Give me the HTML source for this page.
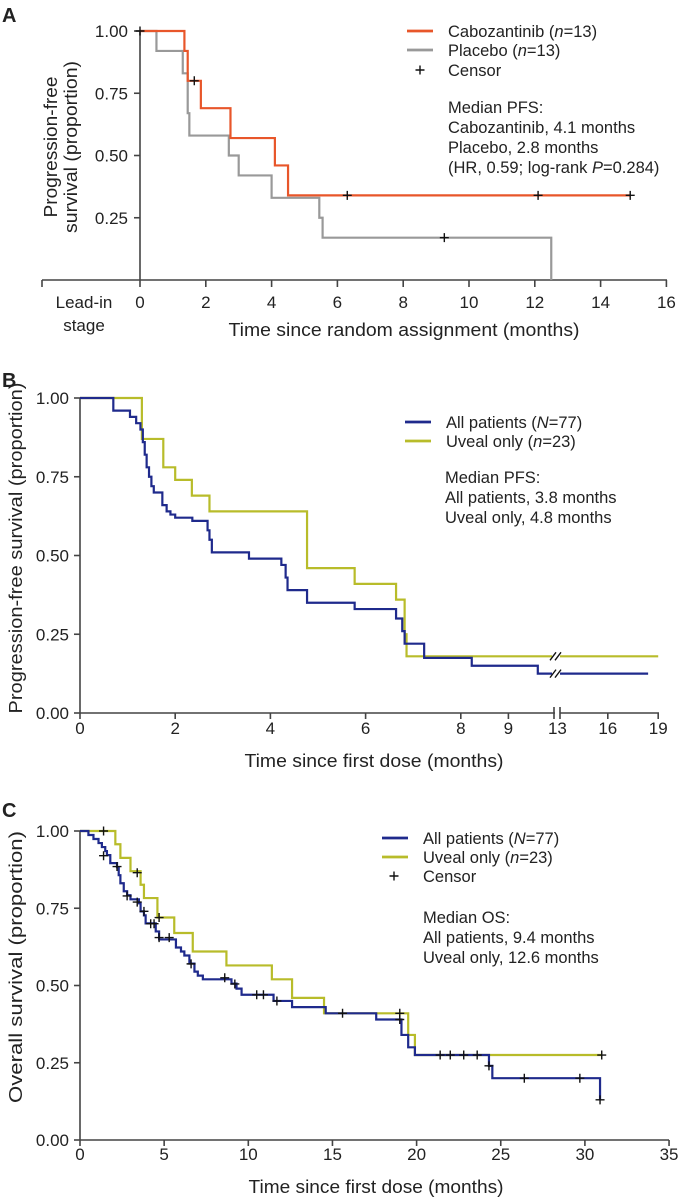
<!DOCTYPE html>
<html><head><meta charset="utf-8"><style>
html,body{margin:0;padding:0;background:#fff;}
svg{display:block;font-family:"Liberation Sans",Arial,sans-serif;}
text{fill:#222;}
</style></head><body>
<svg id="fig" width="678" height="1199" viewBox="0 0 678 1199" xmlns="http://www.w3.org/2000/svg">
<g id="A"></g>
<g id="B"></g>
<g id="C"></g>
</svg>
<script>
// ---------- Panel A data ----------
const aXTicks = [0,2,4,6,8,10,12,14,16];
const aYTicks = [1.00,0.75,0.50,0.25];
const aCaboT = [0,1.35,1.45,1.85,2.75,4.1,4.5];
const aCaboS = [1.0,0.92,0.80,0.69,0.57,0.46,0.34];
const aCaboEnd = 14.9;
const aPlacT = [0,0.5,1.3,1.45,1.5,2.7,3.0,4.0,5.45,5.55,12.5];
const aPlacS = [1.0,0.92,0.83,0.67,0.58,0.50,0.42,0.33,0.25,0.17,0.0];
const aPlacEnd = 12.5;
const aCensT = [0,1.65,6.3,12.1,14.9,9.25];
const aCensS = [1.0,0.80,0.34,0.34,0.34,0.17];

// ---------- Panel B data ----------
const bXTicks = [0,2,4,6,8,9,13,16,19];
const bYTicks = [1.00,0.75,0.50,0.25,0.00];
const bAllT = [0,0.7,1.05,1.18,1.27,1.32,1.36,1.40,1.45,1.50,1.55,1.73,1.82,1.9,2.0,2.36,2.68,2.72,2.77,3.55,4.23,4.32,4.36,4.77,5.77,6.64,6.77,6.82,6.9,7.23,8.23,11.4];
const bAllS = [1.0,0.96,0.94,0.92,0.90,0.86,0.82,0.78,0.75,0.72,0.70,0.66,0.64,0.63,0.62,0.61,0.58,0.55,0.51,0.49,0.47,0.43,0.39,0.35,0.33,0.30,0.26,0.22,0.22,0.175,0.15,0.125];
const bAllEnd = 18.4;
const bUvT = [0,1.3,1.75,2.0,2.35,2.72,4.77,5.77,6.64,6.82,6.86];
const bUvS = [1.0,0.87,0.78,0.74,0.69,0.64,0.46,0.41,0.36,0.25,0.18];
const bUvEnd = 19;

// ---------- Panel C data ----------
const cXTicks = [0,5,10,15,20,25,30,35];
const cYTicks = [1.00,0.75,0.50,0.25,0.00];
const cAllT = [0,0.5,0.8,1.1,1.3,1.5,1.6,1.8,2.2,2.3,2.4,2.6,2.8,3.0,3.5,3.6,3.8,3.9,4.5,4.7,5.7,6.0,6.2,6.5,6.8,7.0,7.3,9.0,9.3,9.6,11.5,12.6,14.6,17.6,19.1,19.5,19.9,24.3,24.5,30.9];
const cAllS = [1.0,0.987,0.974,0.961,0.948,0.935,0.922,0.896,0.883,0.857,0.831,0.805,0.792,0.779,0.766,0.740,0.727,0.701,0.675,0.649,0.623,0.61,0.597,0.571,0.545,0.532,0.52,0.506,0.49,0.47,0.45,0.43,0.41,0.39,0.34,0.30,0.275,0.24,0.20,0.13];
const cAllEnd = 30.9;
const cUvT = [0,2.1,2.4,3.0,3.6,3.8,4.6,5.6,6.7,8.7,11.4,12.6,14.5,19.5,19.9];
const cUvS = [1.0,0.957,0.913,0.87,0.826,0.783,0.72,0.67,0.61,0.565,0.52,0.46,0.41,0.34,0.275];
const cUvEnd = 31;
const cCensAllT = [1.4,2.2,2.8,3.4,3.8,4.2,4.4,4.7,5.3,6.6,8.6,9.2,10.5,10.9,11.7,15.6,19.0,21.4,22.0,22.8,23.6,24.3,26.4,29.7,30.9];
const cCensAllS = [0.92,0.885,0.79,0.77,0.74,0.70,0.70,0.655,0.655,0.57,0.525,0.505,0.47,0.47,0.45,0.41,0.39,0.275,0.275,0.275,0.275,0.24,0.2,0.2,0.13];
const cCensUvT = [1.4,3.4,4.7,19.0,31];
const cCensUvS = [1.0,0.865,0.72,0.41,0.275];

const NS='http://www.w3.org/2000/svg';
function mk(parent,tag,attrs,txt){const e=document.createElementNS(NS,tag);for(const k in attrs)e.setAttribute(k,attrs[k]);if(txt!==undefined)e.textContent=txt;parent.appendChild(e);return e;}
const AX='#444';
const FS=16.5, TFS=17;
function stepPath(T,S,end,x,y){let d='M'+x(T[0])+','+y(S[0]);for(let i=1;i<T.length;i++){d+=' H'+x(T[i])+' V'+y(S[i]);}if(end>T[T.length-1])d+=' H'+x(end);return d;}
function cross(g,cx,cy,name){const p=mk(g,'path',{d:`M${cx-4.5},${cy} H${cx+4.5} M${cx},${cy-4.5} V${cy+4.5}`,stroke:'#111','stroke-width':1.4,fill:'none'});

}
function yAxis(g,x0,y,ticks,top,bot,lx){
 const l=mk(g,'line',{x1:x0,x2:x0,y1:top,y2:bot,stroke:AX,'stroke-width':1.6});
 
 
 ticks.forEach(v=>{mk(g,'line',{x1:x0-6,x2:x0,y1:y(v),y2:y(v),stroke:AX,'stroke-width':1.6});
  const t=mk(g,'text',{x:lx,y:y(v)+6,'text-anchor':'end','font-size':TFS},v.toFixed(2));
  
  });
}
function legendLine(g,x,y,color,label,name){
 const l=mk(g,'line',{x1:x,x2:x+26,y1:y,y2:y,stroke:color,'stroke-width':2.8});
 
 
 const t=mk(g,'text',{x:x+41,y:y+6,'font-size':FS});
 t.innerHTML=label;
 
 
}
function textLines(g,x,y0,dy,lines,name){lines.forEach((s,i)=>{const t=mk(g,'text',{x:x,y:y0+i*dy,'font-size':FS});t.innerHTML=s;
 
 });}
function title(g,attrs,txt,len,name){const t=mk(g,'text',Object.assign({'text-anchor':'middle','font-size':18,textLength:len,lengthAdjust:'spacingAndGlyphs'},attrs),txt);
 
 return t;}

// ===== Panel A =====
(function(){
 const g=document.getElementById('A');
 const x=t=>140+t*32.9, y=s=>280-s*249;
 let lb=mk(g,'text',{x:2,y:22,'font-size':20,'font-weight':'bold'},'A');
 
 mk(g,'line',{x1:42,x2:667,y1:280,y2:280,stroke:AX,'stroke-width':1.6});
 mk(g,'line',{x1:42,x2:42,y1:280,y2:287,stroke:AX,'stroke-width':1.6});
 aXTicks.forEach(v=>{mk(g,'line',{x1:x(v),x2:x(v),y1:280,y2:287,stroke:AX,'stroke-width':1.6});
  const t=mk(g,'text',{x:x(v),y:308,'text-anchor':'middle','font-size':TFS},v);
  });
 ['Lead-in','stage'].forEach((s,i)=>{const t=mk(g,'text',{x:84,y:308+i*23,'text-anchor':'middle','font-size':TFS},s);
  });
 title(g,{x:404,y:336},'Time since random assignment (months)',351,'x-axis-title');
 yAxis(g,140,y,aYTicks,31,280,128);
 title(g,{transform:'translate(57,147) rotate(-90)'},'Progression-free',141,'y-axis-title');
 title(g,{transform:'translate(77,147) rotate(-90)'},'survival (proportion)',172,'y-axis-title');
 let p=mk(g,'path',{d:stepPath(aPlacT,aPlacS,aPlacEnd,x,y),stroke:'#999','stroke-width':2.2,fill:'none'});
 
 p=mk(g,'path',{d:stepPath(aCaboT,aCaboS,aCaboEnd,x,y),stroke:'#e8562a','stroke-width':2.2,fill:'none'});
 
 aCensT.forEach((t,i)=>cross(g,x(t),y(aCensS[i]),'censor-mark'));
 legendLine(g,407,31,'#e8562a','Cabozantinib (<tspan font-style="italic">n</tspan>=13)','legend-cabozantinib');
 legendLine(g,407,50,'#999','Placebo (<tspan font-style="italic">n</tspan>=13)','legend-placebo');
 cross(g,420,70,'legend-censor-mark');
 textLines(g,448,76,1,['Censor'],'legend-censor');
 textLines(g,448,113,20,['Median PFS:','Cabozantinib, 4.1 months','Placebo, 2.8 months','(HR, 0.59; log-rank <tspan font-style="italic">P</tspan>=0.284)'],'median-pfs-note');
})();

// ===== Panel B =====
(function(){
 const g=document.getElementById('B');
 const x=t=>t<=9?80+t*47.6:(t<=13?508.4+(t-9)*12.25:557.4+(t-13)*16.8);
 const y=s=>713-s*315;
 let lb=mk(g,'text',{x:2,y:387,'font-size':20,'font-weight':'bold'},'B');
 
 mk(g,'line',{x1:80,x2:555,y1:713,y2:713,stroke:AX,'stroke-width':1.6});
 mk(g,'line',{x1:560,x2:659,y1:713,y2:713,stroke:AX,'stroke-width':1.6});
 mk(g,'path',{d:'M554,707 V719 M560,707 V719',stroke:AX,'stroke-width':1.6});
 bXTicks.forEach(v=>{if(v!==13)mk(g,'line',{x1:x(v),x2:x(v),y1:713,y2:719,stroke:AX,'stroke-width':1.6});
  const t=mk(g,'text',{x:x(v),y:734,'text-anchor':'middle','font-size':TFS},v);
  });
 title(g,{x:374,y:767},'Time since first dose (months)',259,'x-axis-title');
 yAxis(g,80,y,bYTicks,398,713,69);
 title(g,{transform:'translate(22,548) rotate(-90)'},'Progression-free survival (proportion)',331,'y-axis-title');
 let p=mk(g,'path',{d:stepPath(bUvT,bUvS,bUvEnd,x,y),stroke:'#b8bc2a','stroke-width':2.2,fill:'none'});
 
 p=mk(g,'path',{d:stepPath(bAllT,bAllS,bAllEnd,x,y),stroke:'#1f2a8c','stroke-width':2.2,fill:'none'});
 
 [bUvS[bUvS.length-1],bAllS[bAllS.length-1]].forEach(s=>{const yy=y(s);
  mk(g,'rect',{x:552,y:yy-5,width:8,height:10,fill:'#fff'});
  mk(g,'path',{d:`M550,${yy+4} L556,${yy-4} M555,${yy+4} L561,${yy-4}`,stroke:'#111','stroke-width':1.4});});
 legendLine(g,405,422,'#1f2a8c','All patients (<tspan font-style="italic">N</tspan>=77)','legend-all-patients');
 legendLine(g,405,441,'#b8bc2a','Uveal only (<tspan font-style="italic">n</tspan>=23)','legend-uveal');
 textLines(g,445,483,20,['Median PFS:','All patients, 3.8 months','Uveal only, 4.8 months'],'median-pfs-note');
})();

// ===== Panel C =====
(function(){
 const g=document.getElementById('C');
 const x=t=>80+t*16.83, y=s=>1140-s*309;
 let lb=mk(g,'text',{x:2,y:817,'font-size':20,'font-weight':'bold'},'C');
 
 mk(g,'line',{x1:80,x2:669,y1:1140,y2:1140,stroke:AX,'stroke-width':1.6});
 cXTicks.forEach(v=>{mk(g,'line',{x1:x(v),x2:x(v),y1:1140,y2:1146,stroke:AX,'stroke-width':1.6});
  const t=mk(g,'text',{x:x(v),y:1160,'text-anchor':'middle','font-size':TFS},v);
  });
 title(g,{x:376,y:1193},'Time since first dose (months)',255,'x-axis-title');
 yAxis(g,80,y,cYTicks,831,1140,69);
 title(g,{transform:'translate(22,967) rotate(-90)'},'Overall survival (proportion)',272,'y-axis-title');
 let p=mk(g,'path',{d:stepPath(cUvT,cUvS,cUvEnd,x,y),stroke:'#b8bc2a','stroke-width':2.2,fill:'none'});
 
 p=mk(g,'path',{d:stepPath(cAllT,cAllS,cAllEnd,x,y),stroke:'#1f2a8c','stroke-width':2.2,fill:'none'});
 
 cCensAllT.forEach((t,i)=>cross(g,x(t),y(cCensAllS[i]),'censor-mark'));
 cCensUvT.forEach((t,i)=>cross(g,x(t),y(cCensUvS[i]),'censor-mark'));
 legendLine(g,382,838,'#1f2a8c','All patients (<tspan font-style="italic">N</tspan>=77)','legend-all-patients');
 legendLine(g,382,857,'#b8bc2a','Uveal only (<tspan font-style="italic">n</tspan>=23)','legend-uveal');
 cross(g,394,876,'legend-censor-mark');
 textLines(g,423,882,1,['Censor'],'legend-censor');
 textLines(g,423,923,20,['Median OS:','All patients, 9.4 months','Uveal only, 12.6 months'],'median-os-note');
})();
</script>
</body></html>
